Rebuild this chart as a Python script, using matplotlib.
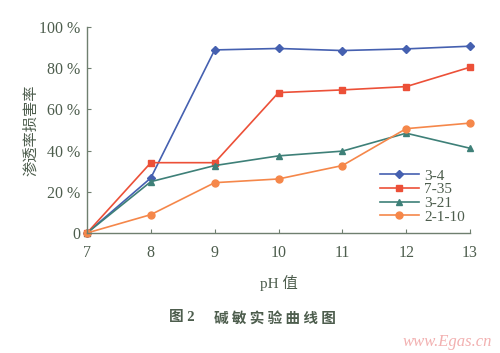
import matplotlib.pyplot as plt
from matplotlib.ticker import FuncFormatter

ph = [7, 8, 9, 10, 11, 12, 13]
s_3_4 = [0, 26.7, 88.8, 89.5, 88.5, 89.3, 90.6]
s_7_35 = [0, 34.1, 34.1, 68.1, 69.4, 71.0, 80.4]
s_3_21 = [0, 24.9, 32.7, 37.4, 39.7, 48.4, 41.1]
s_2_1_10 = [0, 8.9, 24.4, 26.2, 32.7, 50.6, 53.3]
names = ['3-4', '7-35', '3-21', '2-1-10']

txt = '#4d5d4d'
axc = '#6f7f6f'
serif = ['Liberation Serif', 'DejaVu Serif']
cjk = ['Noto Sans CJK SC', 'DejaVu Sans']

fig = plt.figure(figsize=(5, 3.53), dpi=100)
ax = fig.add_axes([0.174, 0.34, 0.766, 0.584])

ax.plot(ph, s_3_4, color='#4560b0', marker='D', ms=4, lw=1.2, label=names[0])
ax.plot(ph, s_7_35, color='#ec5038', marker='s', ms=4.5, lw=1.2, label=names[1])
ax.plot(ph, s_3_21, color='#3e8078', marker='^', ms=5, lw=1.2, label=names[2])
ax.plot(ph, s_2_1_10, color='#f5874a', marker='o', ms=5, lw=1.2, label=names[3])

ax.set_xlim(7, 13)
ax.set_ylim(0, 100)
ax.set_xticks(ph)
ax.set_yticks([0, 20, 40, 60, 80, 100])
ax.yaxis.set_major_formatter(FuncFormatter(lambda v, p: '0' if v == 0 else '%d %%' % v))

for side in ['top', 'right']:
    ax.spines[side].set_visible(False)
for side in ['left', 'bottom']:
    ax.spines[side].set_color(axc)
    ax.spines[side].set_linewidth(1.0)
ax.tick_params(direction='in', length=3, color=axc, labelcolor=txt, labelsize=11.5)
ax.tick_params(axis='x', pad=9)
ax.tick_params(axis='y', pad=5)
for lab in ax.get_xticklabels() + ax.get_yticklabels():
    lab.set_family(serif)
for l in ax.lines:
    l.set_clip_on(False)

ax.set_xlabel('pH 值', family=['Liberation Serif', 'Noto Sans CJK SC'], color=txt, fontsize=11, labelpad=10)
ax.set_ylabel('渗透率损害率', family=cjk, color=txt, fontsize=11, labelpad=0)

leg = ax.legend(loc='lower right', bbox_to_anchor=(1.01, 0.0), frameon=False,
                borderaxespad=0.2, handlelength=2.6, labelspacing=0.0, handletextpad=0.3,
                prop={'family': serif, 'size': 11})
for t in leg.get_texts():
    t.set_color(txt)

fig.text(0.364, 0.1, '图 2', ha='center', va='center',
         family=serif[:1] + cjk, fontsize=10.5, fontweight='bold', color=txt)
fig.text(0.55, 0.1, '碱 敏 实 验 曲 线 图', ha='center', va='center',
         family=cjk, fontsize=10.5, fontweight='bold', color=txt)
fig.text(0.985, 0.03, 'www.Egas.cn', ha='right', va='center', family=serif,
         style='italic', fontsize=12, color='#f2b0b0')

fig.savefig('out.png', dpi=100)
